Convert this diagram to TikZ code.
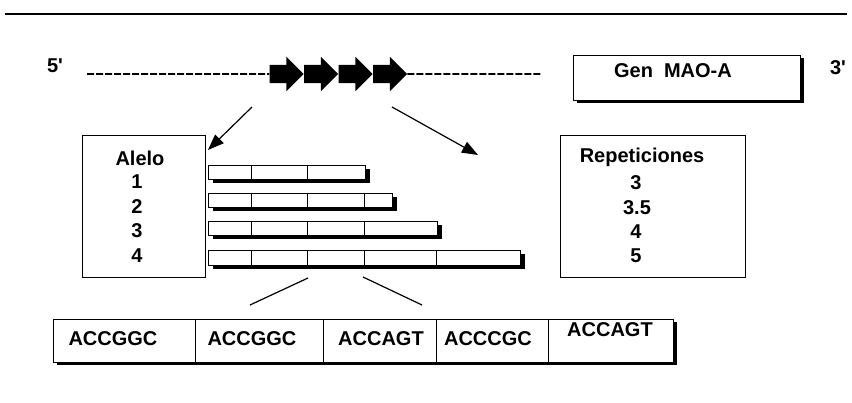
\documentclass[tikz,border=0pt]{standalone}
\usepackage{fontspec}
\setmainfont{Liberation Sans}
\usetikzlibrary{shapes.arrows,shadows,arrows.meta}

\begin{document}
\begin{tikzpicture}[x=1pt,y=-1pt,
  lbl/.style={font=\fontsize{20}{24}\selectfont\bfseries, inner sep=0pt, anchor=center},
  frame/.style={draw, line width=1pt, fill=white, anchor=north west, inner sep=0pt},
  shade3/.style={drop shadow={shadow xshift=3pt, shadow yshift=-3pt, fill=black, opacity=1}},
  shade4/.style={drop shadow={shadow xshift=4pt, shadow yshift=-4pt, fill=black, opacity=1}},
  repeat/.style={single arrow, fill=black, draw=none, inner sep=0pt,
    minimum width=34pt, minimum height=34pt, single arrow head extend=8pt,
    single arrow tip angle=90, shape border rotate=0, text height=18pt, text depth=0pt, text width=0pt},
  gene/.style={line width=1.8pt, dash pattern=on 7pt off 2pt},
  pointer/.style={line width=1.2pt, -{Triangle[length=16pt,width=12pt]}},
  link/.style={line width=1.2pt},
  divider/.style={line width=1pt}]

\path[use as bounding box] (0,0) rectangle (852,403);

% rule across the top
\draw[line width=2pt] (5,14) -- (847,14);

% gene strand with the tandem repeats
\node[lbl] (five) at (55,66) {5\textquotesingle};
\node[lbl] (three) at (838,68) {3\textquotesingle};
\coordinate (strandL) at (87,74);
\coordinate (strandR) at (542,74);
\node[repeat] (r1) at (282,74) {};
\node[repeat] (r2) at (316.5,74) {};
\node[repeat] (r3) at (351,74) {};
\node[repeat] (r4) at (385.5,74) {};
\draw[gene] (strandL) -- (r1.west);
\draw[gene] (r4.east) -- (strandR);

% gene name box
\node[frame, shade3, minimum width=227pt, minimum height=45pt] (gen) at (573,55) {};
\node[lbl] (gentxt) at (673,71) {Gen\hspace{0.55em}MAO-A};

% pointers from the repeats
\coordinate (pl) at (252,107);
\coordinate (pr) at (392,107);
\coordinate (tl) at (208,150);
\coordinate (tr) at (478,155);
\draw[pointer] (pl) -- (tl);
\draw[pointer] (pr) -- (tr);

% allele table
\node[frame, minimum width=123pt, minimum height=142pt] (alelo) at (82,135) {};
\node[lbl] (al0) at (140,158) {Alelo};
\node[lbl] (al1) at (137,182) {1};
\node[lbl] (al2) at (137,207) {2};
\node[lbl] (al3) at (137,231) {3};
\node[lbl] (al4) at (137,256) {4};

% repeat count table
\node[frame, minimum width=185pt, minimum height=142pt] (rep) at (560,135) {};
\node[lbl] (rp0) at (642,157) {Repeticiones};
\node[lbl] (rp1) at (636,183) {3};
\node[lbl] (rp2) at (637,208) {3.5};
\node[lbl] (rp3) at (636,232) {4};
\node[lbl] (rp4) at (636,256) {5};

% allele bars
\node[frame, shade4, minimum width=157pt, minimum height=14pt] (bar1) at (208,165) {};
\node[frame, shade4, minimum width=184pt, minimum height=14pt] (bar2) at (208,193) {};
\node[frame, shade4, minimum width=229pt, minimum height=14pt] (bar3) at (208,221) {};
\node[frame, shade4, minimum width=312pt, minimum height=15pt] (bar4) at (208,250) {};
\foreach \b/\xs in {bar1/{251,307}, bar2/{251,307,364}, bar3/{251,307,364}, bar4/{251,307,364,436}}{
  \foreach \x in \xs {
    \draw[divider] (\b.north -| {(\x,0)}) -- (\b.south -| {(\x,0)});
  }
}

% expansion lines to the sequence row
\coordinate (el) at (308,278);
\coordinate (er) at (363,277);
\coordinate (sl) at (250,305);
\coordinate (sr) at (422,305);
\draw[link] (el) -- (sl);
\draw[link] (er) -- (sr);

% sequence row
\node[frame, shade3, minimum width=620pt, minimum height=43pt] (seq) at (53,319) {};
\foreach \x in {195,323,436,548}{
  \draw[divider] (seq.north -| {(\x,0)}) -- (seq.south -| {(\x,0)});
}
\node[lbl] (s1) at (113,339) {ACCGGC};
\node[lbl] (s2) at (252,339) {ACCGGC};
\node[lbl] (s3) at (381,339) {ACCAGT};
\node[lbl] (s4) at (488,339) {ACCCGC};
\node[lbl] (s5) at (610,330) {ACCAGT};

\end{tikzpicture}
\end{document}
